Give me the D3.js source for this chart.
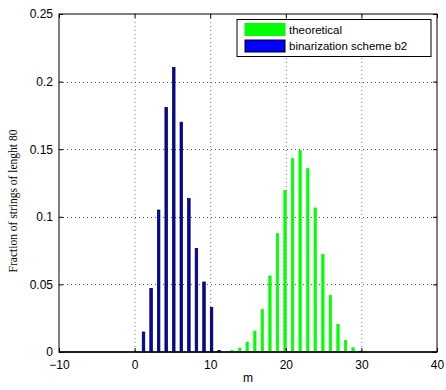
<!DOCTYPE html>
<html>
<head>
<meta charset="utf-8">
<script src="https://cdn.jsdelivr.net/npm/d3@7"></script>
<style>
  body { margin: 0; background: #fff; }
  text { font-family: "Liberation Sans", Arial, sans-serif; }
</style>
</head>
<body>
<svg id="chart"></svg>
<script>
// m = 0..39
const mValues = d3.range(0, 40);
const theoretical = [
  0, 0, 0, 0, 0, 0, 0, 0, 0, 0,
  0, 0, 0, 0.0012, 0.003, 0.0074, 0.0155, 0.0316, 0.0563, 0.0876,
  0.1197, 0.1431, 0.1493, 0.1357, 0.1066, 0.0723, 0.042, 0.0205, 0.0087, 0.0032,
  0.0008, 0, 0, 0, 0, 0, 0, 0, 0, 0
];
const schemeB2 = [
  0, 0.0148, 0.047, 0.105, 0.181, 0.2105, 0.170, 0.1135, 0.0765, 0.0518,
  0.033, 0.001, 0, 0, 0, 0, 0, 0, 0, 0,
  0, 0, 0, 0, 0, 0, 0, 0, 0, 0,
  0, 0, 0, 0, 0, 0, 0, 0, 0, 0
];
const xTicks = [-10, 0, 10, 20, 30, 40];
const yTicks = [0, 0.05, 0.1, 0.15, 0.2, 0.25];
const seriesNames = ["theoretical", "binarization scheme b2"];

const width = 446, height = 390;
const margin = { top: 14, right: 9, bottom: 38, left: 59 };
const w = width - margin.left - margin.right;
const h = height - margin.top - margin.bottom;

const svg = d3.select("#chart").attr("width", width).attr("height", height);
const g = svg.append("g").attr("transform", `translate(${margin.left},${margin.top})`);

const x = d3.scaleLinear().domain([-10, 40]).range([0, w]);
const y = d3.scaleLinear().domain([0, 0.25]).range([h, 0]);

// grid
g.append("g").selectAll("line")
    .data(xTicks.slice(1, -1))
    .enter().append("line")
    .attr("x1", d => x(d) + 0.5).attr("x2", d => x(d) + 0.5)
    .attr("y1", 0).attr("y2", h)
    .attr("stroke", "#777").attr("stroke-dasharray", "1,3");
g.append("g").selectAll("line")
    .data(yTicks.slice(1, -1))
    .enter().append("line")
    .attr("y1", d => Math.round(y(d)) + 0.5).attr("y2", d => Math.round(y(d)) + 0.5)
    .attr("x1", 0).attr("x2", w)
    .attr("stroke", "#555").attr("stroke-dasharray", "1,3");

// bars
const barW = 0.34;
g.append("g").selectAll("rect")
    .data(mValues.map((m, i) => ({ m, v: theoretical[i] })))
    .enter().append("rect")
    .attr("x", d => x(d.m - 0.1 - barW / 2))
    .attr("width", x(barW) - x(0))
    .attr("y", d => y(d.v))
    .attr("height", d => y(0) - y(d.v))
    .attr("fill", "#00ff00")
    .attr("stroke", "#00ff00")
    .attr("stroke-width", 0.5);

// baseline
g.append("line")
    .attr("x1", 0).attr("x2", w)
    .attr("y1", y(0)).attr("y2", y(0))
    .attr("stroke", "#000").attr("stroke-width", 1.5);

g.append("g").selectAll("rect")
    .data(mValues.map((m, i) => ({ m, v: schemeB2[i] })).filter(d => d.v > 0))
    .enter().append("rect")
    .attr("x", d => x(d.m + 0.18 - barW / 2))
    .attr("width", x(barW) - x(0))
    .attr("y", d => y(d.v))
    .attr("height", d => y(0) - y(d.v))
    .attr("fill", "#0000e0")
    .attr("stroke", "#000")
    .attr("stroke-width", 0.7);

// green zero marks on the baseline
g.append("g").selectAll("rect")
    .data(mValues.filter((m, i) => theoretical[i] === 0 && schemeB2[i] === 0))
    .enter().append("rect")
    .attr("x", d => x(d - 0.1 - barW / 2))
    .attr("width", x(barW) - x(0))
    .attr("y", y(0) - 0.5)
    .attr("height", 1)
    .attr("fill", "#00c000");

// axes box with inward ticks
const tickLen = 4;
const axisBottom = d3.axisBottom(x).tickValues(xTicks).tickSizeInner(-tickLen).tickSizeOuter(0)
    .tickFormat(d => d < 0 ? "\u2212" + Math.abs(d) : d).tickPadding(8);
const axisTop = d3.axisTop(x).tickValues(xTicks).tickSizeInner(-tickLen).tickSizeOuter(0).tickFormat("");
const axisLeft = d3.axisLeft(y).tickValues(yTicks).tickSizeInner(-tickLen).tickSizeOuter(0)
    .tickFormat(d => d === 0 ? "0" : d3.format("")(+d.toFixed(2))).tickPadding(6);
const axisRight = d3.axisRight(y).tickValues(yTicks).tickSizeInner(-tickLen).tickSizeOuter(0).tickFormat("");

g.append("g").attr("transform", `translate(0,${h})`).call(axisBottom);
g.append("g").call(axisTop);
g.append("g").call(axisLeft);
g.append("g").attr("transform", `translate(${w},0)`).call(axisRight);

g.selectAll(".domain").remove();
g.selectAll(".tick text").attr("font-size", 12).attr("fill", "#000")
    .attr("font-family", "Liberation Sans, Arial, sans-serif");
g.selectAll(".tick line").attr("stroke", "#000");

g.append("rect")
    .attr("x", 0).attr("y", 0).attr("width", w).attr("height", h)
    .attr("fill", "none").attr("stroke", "#000").attr("stroke-width", 1);

// axis labels
svg.append("text")
    .attr("x", margin.left + x(15)).attr("y", height - 8)
    .attr("text-anchor", "middle").attr("font-size", 12)
    .text("m");
svg.append("text")
    .attr("transform", `translate(17,${margin.top + h / 2 + 18}) rotate(-90)`)
    .attr("text-anchor", "middle").attr("font-size", 11.5)
    .style("font-family", "Liberation Serif, Times New Roman, serif")
    .text("Fraction of strings of lenght 80");

// legend
const legend = svg.append("g").attr("transform", "translate(237,19.5)");
legend.append("rect")
    .attr("width", 194).attr("height", 37)
    .attr("fill", "#fff").attr("stroke", "#000");
const legendColors = ["#00ff00", "#0000ff"];
seriesNames.forEach((name, i) => {
    legend.append("rect")
        .attr("x", 8).attr("y", 4 + i * 16.5).attr("width", 40).attr("height", 12)
        .attr("fill", legendColors[i]).attr("stroke", i === 1 ? "#000" : "#00ff00");
    legend.append("text")
        .attr("x", 52).attr("y", 14 + i * 16.5)
        .attr("font-size", 11.5)
        .text(name);
});
</script>
</body>
</html>
